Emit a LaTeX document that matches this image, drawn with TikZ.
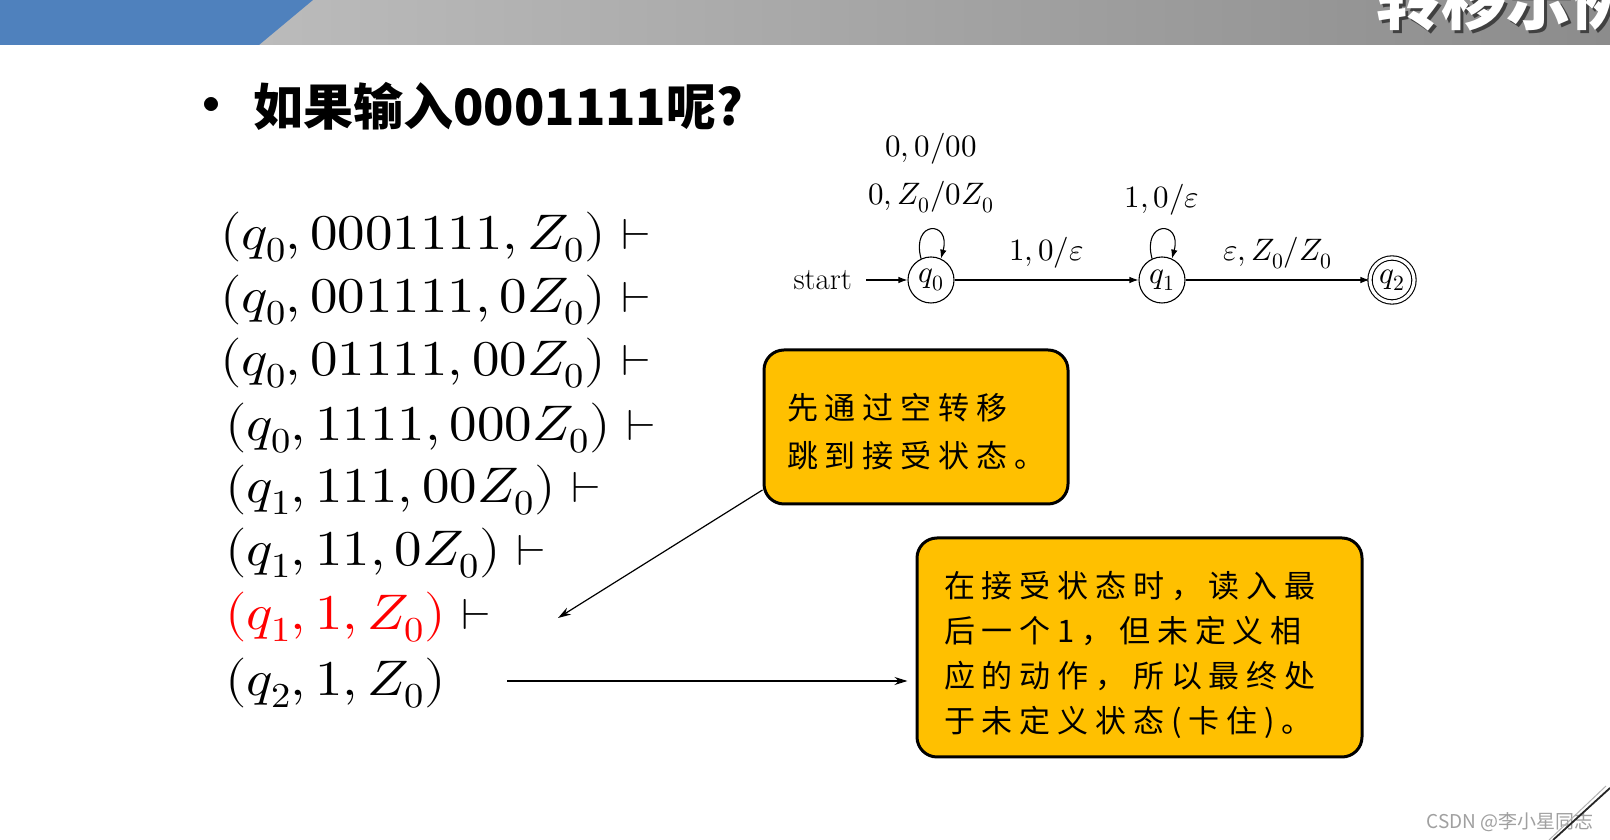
\documentclass[tikz,border=0pt]{standalone}
\usepackage{fontspec}
\usepackage{unicode-math}
\usepackage{graphicx}
\newfontfamily\cjk{Noto Sans CJK SC}
\newfontfamily\cjkls[LetterSpace=22]{Noto Sans CJK SC}
\usetikzlibrary{arrows.meta}
\definecolor{barblue}{HTML}{4F81BD}
\definecolor{boxgold}{HTML}{FFC000}
\definecolor{barL}{HTML}{C4C4C4}
\definecolor{barR}{HTML}{8C8C8C}
\definecolor{wmgray}{HTML}{A0A0A0}
\newcommand\mytstile{{\fontsize{44}{44}\selectfont$\vdash$}}
\begin{document}
\begin{tikzpicture}[x=1pt,y=1pt,
  formula/.style={anchor=west, inner sep=0pt, font=\fontsize{50}{50}\selectfont},
  callout/.style={draw=black, line width=3pt, fill=boxgold, rounded corners=20pt, inner sep=0pt},
  callouttext/.style={anchor=west, inner sep=0pt, align=left, font=\cjkls\fontsize{31}{48}\selectfont},
  pdastate/.style={draw, circle, line width=1.1pt, minimum size=46pt, inner sep=0pt, font=\fontsize{31}{31}\selectfont},
  autlabel/.style={inner sep=0pt, font=\fontsize{31}{31}\selectfont},
  autarrow/.style={line width=1.1pt, -{Latex[length=9pt,width=6.5pt]}},
  pointer/.style={line width=1.2pt, -{Stealth[length=13pt,width=8pt]}}
]
\useasboundingbox (0,0) rectangle (1610,840);
\fill[white] (0,0) rectangle (1610,840);
% top bar
\shade[left color=barL, right color=barR] (0,795) rectangle (1610,840);
\fill[barblue] (0,795) -- (259,795) -- (313,840) -- (0,840) -- cycle;
\node[anchor=west, inner sep=0pt, text=black!75, font=\cjk\bfseries\fontsize{65}{65}\selectfont] (titleshadow) at (1379,837) {转移示例};
\node[anchor=west, inner sep=0pt, text=white, font=\cjk\bfseries\fontsize{65}{65}\selectfont] (bartitle) at (1376,840) {转移示例};
% heading
\node[inner sep=0pt, font=\cjk\bfseries\fontsize{50}{50}\selectfont] (bullet) at (211,729) {•};
\node[anchor=west, inner sep=0pt, font=\cjk\bfseries\fontsize{50}{50}\selectfont] (heading) at (253,734) {如果输入0001111呢?};
% configurations
\node[formula] (c1) at (220,603) {\scalebox{1.1}[1]{$(q_0, 0001111, Z_0)$\hspace{14pt}\mytstile}};
\node[formula] (c2) at (220,540) {\scalebox{1.1}[1]{$(q_0, 001111, 0Z_0)$\hspace{14pt}\mytstile}};
\node[formula] (c3) at (220,477) {\scalebox{1.1}[1]{$(q_0, 01111, 00Z_0)$\hspace{14pt}\mytstile}};
\node[formula] (c4) at (225,412) {\scalebox{1.1}[1]{$(q_0, 1111, 000Z_0)$\hspace{14pt}\mytstile}};
\node[formula] (c5) at (225,350) {\scalebox{1.1}[1]{$(q_1, 111, 00Z_0)$\hspace{14pt}\mytstile}};
\node[formula] (c6) at (225,287) {\scalebox{1.1}[1]{$(q_1, 11, 0Z_0)$\hspace{14pt}\mytstile}};
\node[formula] (c7) at (225,223) {\scalebox{1.1}[1]{\textcolor{red}{$(q_1, 1, Z_0)$}\hspace{14pt}\mytstile}};
\node[formula] (c8) at (225,157) {\scalebox{1.1}[1]{$(q_2, 1, Z_0)$}};
% automaton
\node[pdastate] (q0) at (931,560) {$q_0$};
\node[pdastate] (q1) at (1162,560) {$q_1$};
\node[pdastate, minimum size=44pt, double, double distance=3.2pt] (q2) at (1392,560) {$q_2$};
\node[autlabel, anchor=east] (st) at (852,560) {start};
\draw[autarrow] ([xshift=14pt]st.east) -- (q0.west);
\draw[autarrow] (q0) -- node[autlabel, yshift=27pt] (l01) {$1,0/\varepsilon$} (q1);
\draw[autarrow] (q1) -- node[autlabel, yshift=27pt] (l12) {$\varepsilon,Z_0/Z_0$} (q2);
\draw[autarrow] (q0.115) .. controls +(105:40) and +(75:40) .. (q0.65);
\draw[autarrow] (q1.115) .. controls +(105:40) and +(75:40) .. (q1.65);
\node[autlabel] (ll0a) at (931,691) {$0,0/00$};
\node[autlabel] (ll0b) at (931,643) {$0,Z_0/0Z_0$};
\node[autlabel] (ll1) at (1162,640) {$1,0/\varepsilon$};
% callouts
\node[callout, minimum width=304pt, minimum height=154pt] (b1) at (916,413) {};
\node[callouttext] (t1) at (787,408) {先通过空转移\\跳到接受状态。};
\node[callout, minimum width=445pt, minimum height=219pt] (b2) at (1139.5,192.5) {};
\node[callouttext, font=\cjkls\fontsize{31}{45.3}\selectfont] (t2) at (944,185) {在接受状态时，读入最\\后一个1，但未定义相\\应的动作，所以最终处\\于未定义状态(卡住)。};
% pointers
\coordinate (p1) at (558,222);
\draw[pointer] ([yshift=-63pt]b1.west) -- (p1);
\coordinate (p2s) at (507,159);
\draw[pointer] (p2s) -- ([xshift=-8pt]b2.west |- p2s);
% watermark and page curl
\node[anchor=east, inner sep=0pt, text=wmgray, font=\cjk\fontsize{19}{19}\selectfont] (wm) at (1594,18) {CSDN @李小星同志};
\draw[gray!60, line width=1pt] (1606,54) -- (1549,0);
\draw[black!85, line width=1.8pt] (1610,52) -- (1553,0);
\end{tikzpicture}
\end{document}
